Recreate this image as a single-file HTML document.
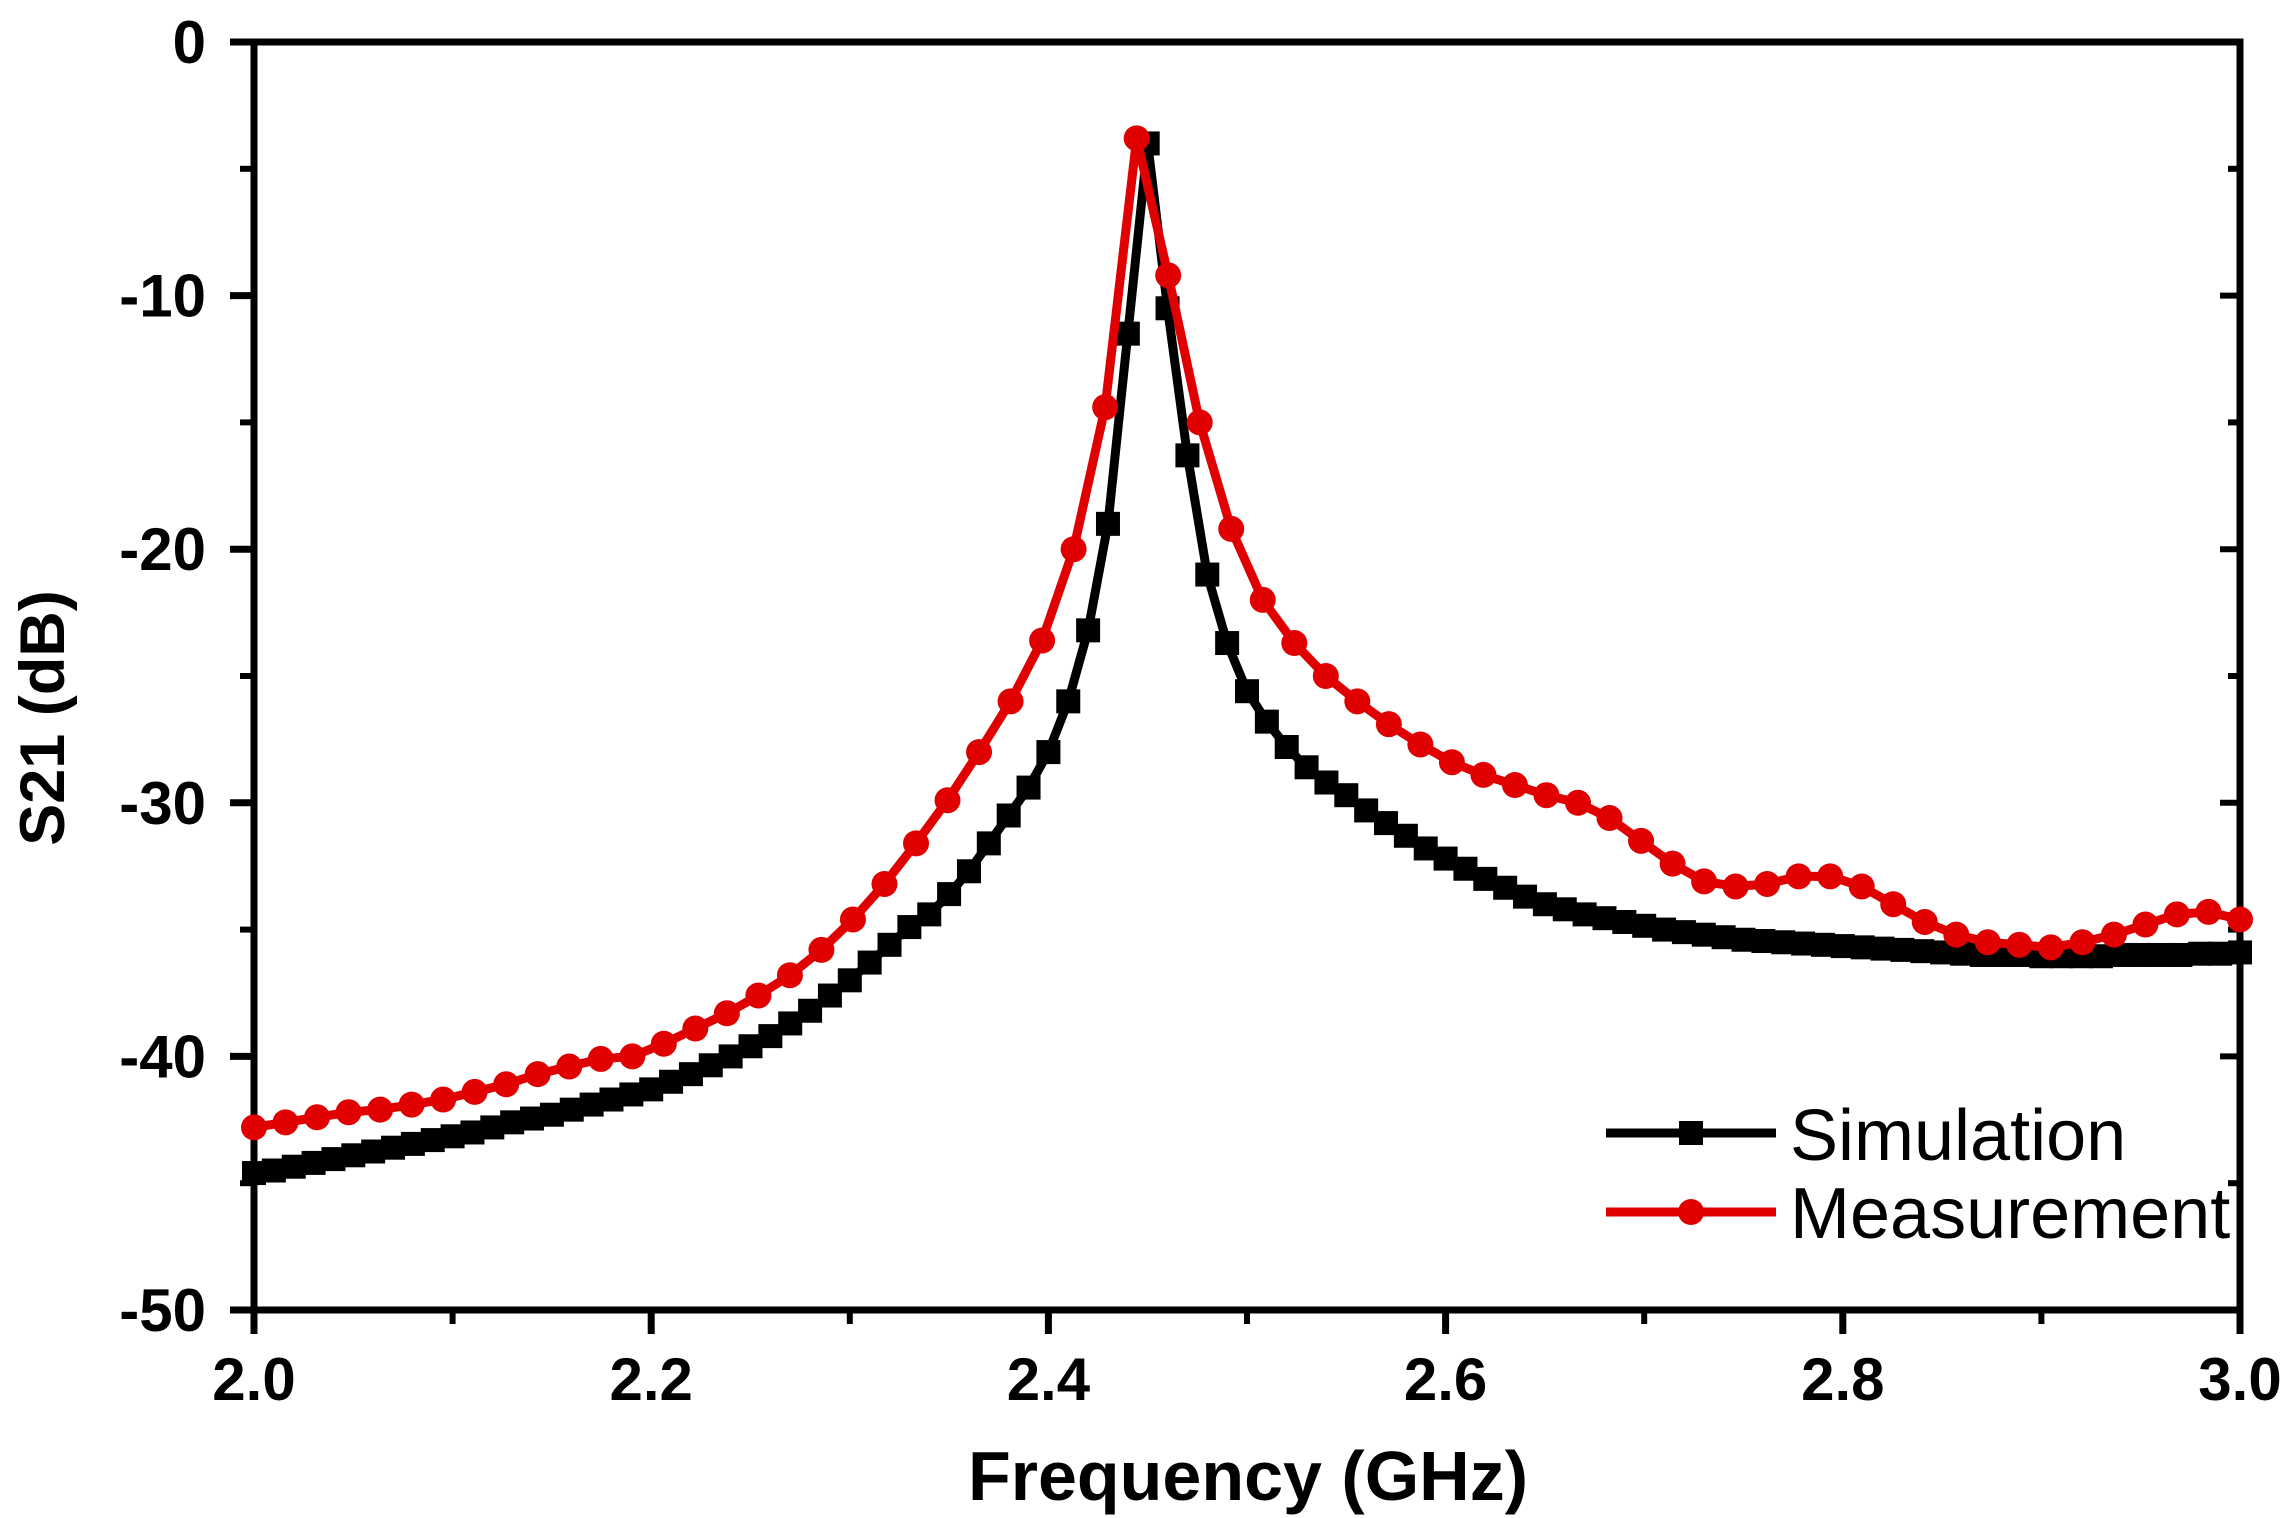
<!DOCTYPE html>
<html><head><meta charset="utf-8"><style>
html,body{margin:0;padding:0;background:#fff;}
svg{display:block;font-family:"Liberation Sans",Arial,sans-serif;}
</style></head><body>
<svg id="chart" width="2295" height="1518" viewBox="0 0 2295 1518">
<g id="axes"></g>
<g id="series"></g>
<text x="1248" y="1500" font-size="70" font-weight="bold" text-anchor="middle">Frequency (GHz)</text>
<text transform="translate(64,718) rotate(-90)" font-size="63" font-weight="bold" text-anchor="middle">S21 (dB)</text>
<g>
 <g>
  <line x1="1606" y1="1133" x2="1776" y2="1133" stroke="#000" stroke-width="9"/>
  <rect x="1679" y="1121" width="24" height="24" fill="#000"/>
  <text x="1790" y="1160" font-size="72">Simulation</text>
 </g>
 <g>
  <line x1="1606" y1="1212" x2="1776" y2="1212" stroke="#e00000" stroke-width="9"/>
  <circle cx="1691" cy="1212" r="13" fill="#e00000"/>
  <text x="1790" y="1238" font-size="72">Measurement</text>
 </g>
</g>
</svg>
<script>
const xTicks = [2.0, 2.2, 2.4, 2.6, 2.8, 3.0];
const xTickLabels = ["2.0", "2.2", "2.4", "2.6", "2.8", "3.0"];
const yTicks = [0, -10, -20, -30, -40, -50];
const yTickLabels = ["0", "-10", "-20", "-30", "-40", "-50"];
const simStart = 2.0, simEnd = 3.0;
const simValues = [-44.6,-44.5,-44.35,-44.2,-44.05,-43.9,-43.75,-43.6,-43.45,-43.3,
-43.15,-43.0,-42.8,-42.6,-42.45,-42.3,-42.1,-41.9,-41.7,-41.5,
-41.3,-41.0,-40.7,-40.35,-40.0,-39.6,-39.2,-38.7,-38.2,-37.6,
-37.0,-36.3,-35.6,-34.9,-34.4,-33.6,-32.7,-31.6,-30.5,-29.4,
-28.0,-26.0,-23.2,-19.0,-11.5,-4.0,-10.5,-16.3,-21.0,-23.7,
-25.6,-26.8,-27.8,-28.6,-29.2,-29.7,-30.3,-30.8,-31.3,-31.8,
-32.2,-32.6,-33.0,-33.35,-33.7,-34.0,-34.2,-34.4,-34.55,-34.7,
-34.85,-35.0,-35.1,-35.2,-35.3,-35.4,-35.45,-35.5,-35.55,-35.6,
-35.65,-35.7,-35.75,-35.8,-35.85,-35.9,-35.95,-36.0,-36.0,-36.0,
-36.05,-36.05,-36.05,-36.05,-36.0,-36.0,-36.0,-36.0,-35.95,-35.95,-35.9];
const measValues = [-42.8,-42.6,-42.4,-42.2,-42.1,-41.9,-41.7,-41.4,-41.1,-40.7,-40.4,-40.1,-40.0,-39.5,-38.9,-38.3,-37.6,-36.8,-35.8,-34.6,-33.2,-31.6,-29.9,-28.0,-26.0,-23.6,-20.0,-14.4,
-3.8,
-9.2,-15.0,-19.2,-22.0,-23.7,-25.0,-26.0,-26.9,-27.7,-28.4,-28.9,-29.3,-29.7,-30.0,-30.6,-31.5,-32.4,-33.1,-33.3,-33.2,-32.9,-32.9,-33.3,-34.0,-34.7,-35.2,-35.5,-35.6,-35.7,-35.5,-35.2,-34.8,-34.4,-34.3,-34.6];
const L=254,R=2240,T=42,B=1310;
const xS=f=>L+(f-2)/(3-2)*(R-L);
const yS=v=>T+(0-v)/(50)*(B-T);
const NS="http://www.w3.org/2000/svg";
function mk(tag,attrs,parent){const e=document.createElementNS(NS,tag);for(const k in attrs)e.setAttribute(k,attrs[k]);parent.appendChild(e);return e;}
const ax=document.getElementById('axes');
const frame=mk('rect',{x:L,y:T,width:R-L,height:B-T,fill:'none',stroke:'#000','stroke-width':7},ax);


for(let i=0;i<xTicks.length;i++){
  const x=xS(xTicks[i]);
  const t=mk('line',{x1:x,y1:B,x2:x,y2:B+24,stroke:'#000','stroke-width':7},ax);
  
  
  const lb=mk('text',{x:x,y:1400,'font-size':60,'font-weight':'bold','text-anchor':'middle'},ax);
  lb.textContent=xTickLabels[i];
  
  
  if(i<xTicks.length-1){
    const xm=xS(xTicks[i]+0.1);
    const m=mk('line',{x1:xm,y1:B,x2:xm,y2:B+14,stroke:'#000','stroke-width':6},ax);
    
    
  }
}
for(let i=0;i<yTicks.length;i++){
  const y=yS(yTicks[i]);
  const t=mk('line',{x1:L-24,y1:y,x2:L,y2:y,stroke:'#000','stroke-width':7},ax);
  
  
  const t2=mk('line',{x1:R-20,y1:y,x2:R,y2:y,stroke:'#000','stroke-width':6},ax);
  
  
  const lb=mk('text',{x:206,y:y+21,'font-size':60,'font-weight':'bold','text-anchor':'end'},ax);
  lb.textContent=yTickLabels[i];
  
  
  if(i<yTicks.length-1){
    const ym=yS(yTicks[i]-5);
    const m=mk('line',{x1:L-14,y1:ym,x2:L,y2:ym,stroke:'#000','stroke-width':6},ax);
    
    
    const m2=mk('line',{x1:R-12,y1:ym,x2:R,y2:ym,stroke:'#000','stroke-width':6},ax);
    
    
  }
}
const sg=document.getElementById('series');
function draw(vals,color,shape,name){
  const n=vals.length;
  const pts=vals.map((v,i)=>[xS(simStart+(simEnd-simStart)*i/(n-1)),yS(v)]);
  const g=mk('g',{},sg);
  
  
  const p=mk('polyline',{points:pts.map(q=>q.join(',')).join(' '),fill:'none',stroke:color,'stroke-width':9,'stroke-linejoin':'round'},g);
  
  
  pts.forEach(q=>{
    let m;
    if(shape==='sq') m=mk('rect',{x:q[0]-12,y:q[1]-12,width:24,height:24,fill:color},g);
    else m=mk('circle',{cx:q[0],cy:q[1],r:13,fill:color},g);
    
    
  });
}
draw(simValues,'#000','sq','simulation');
draw(measValues,'#e00000','ci','measurement');
</script>
</body></html>
